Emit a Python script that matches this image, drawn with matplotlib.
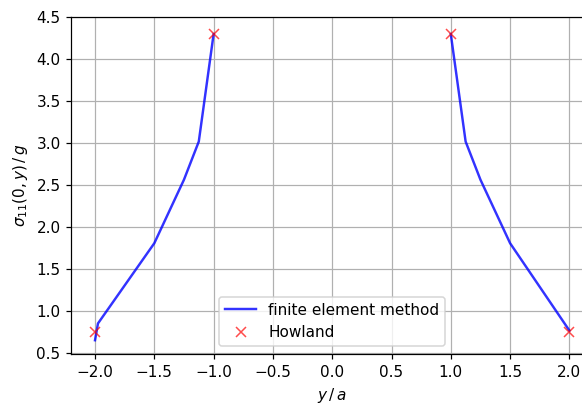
import numpy as np
import matplotlib
matplotlib.use("Agg")
import matplotlib.pyplot as plt

# finite element results, left and right of the hole
y_left = [-2.0, -1.975, -1.5, -1.25, -1.125, -1.0]
s_left = [0.655, 0.855, 1.81, 2.566, 3.02, 4.30]
y_right = [1.0, 1.125, 1.25, 1.5, 2.0]
s_right = [4.30, 3.02, 2.566, 1.81, 0.77]

# Howland reference values
y_howland = [-2.0, -1.0, 1.0, 2.0]
s_howland = [0.75, 4.30, 4.30, 0.75]

DPI = 110
fig = plt.figure(figsize=(582 / DPI, 405 / DPI), dpi=DPI)
ax = fig.add_axes([0.1225, 0.1257, 0.8966, 0.8317])

y_fem = y_left + [np.nan] + y_right
s_fem = s_left + [np.nan] + s_right
ax.plot(y_fem, s_fem, "b-", alpha=0.8, lw=1.6, label="finite element method")
ax.plot(y_howland, s_howland, "rx", alpha=0.7, label="Howland")

ax.set_xlim(-2.2, 2.2)
ax.set_ylim(0.49, 4.5)
ax.set_xticks(np.arange(-2.0, 2.01, 0.5))
ax.set_yticks(np.arange(0.5, 4.51, 0.5))
ax.grid(True)
ax.set_xlabel(r"$y\,/\,a$")
ax.set_ylabel(r"$\sigma_{11}(0,y)\,/\,g$")
ax.legend(loc="lower center")

fig.savefig("out.png", dpi=DPI)
